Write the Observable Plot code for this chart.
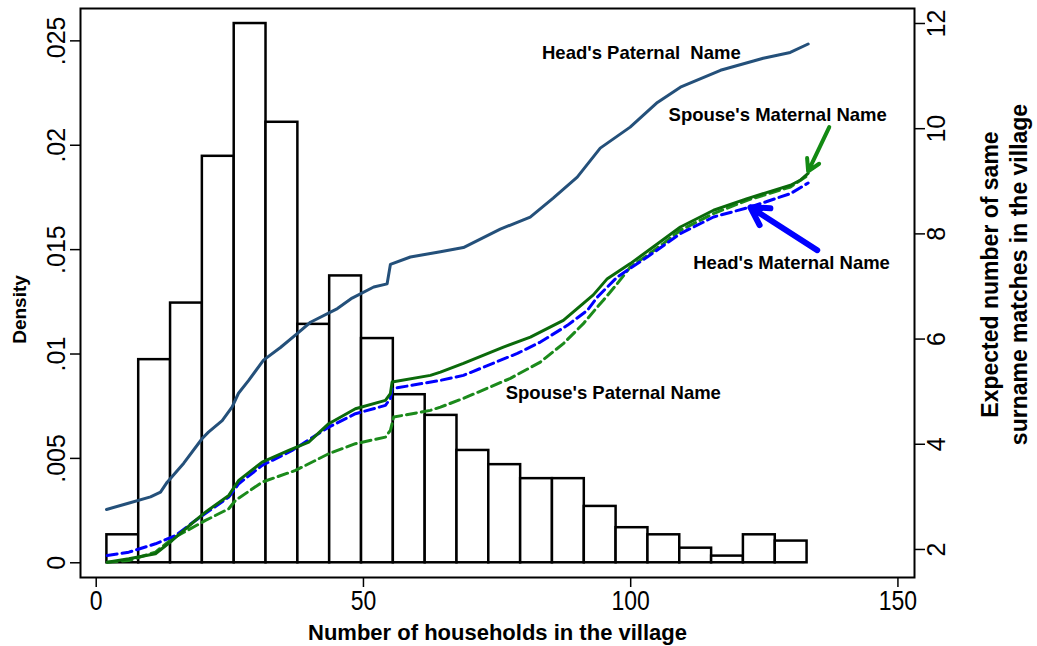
<!DOCTYPE html>
<html><head><meta charset="utf-8">
<script src="https://cdn.jsdelivr.net/npm/d3@7"></script>
<script src="https://cdn.jsdelivr.net/npm/@observablehq/plot@0.6"></script>
<style>body{margin:0;background:#fff;}</style>
</head><body><div id="chart"></div>
<script>
// Histogram: bin edges (number of households) and density per bin
const binEdges = [2, 7.95, 13.91, 19.86, 25.82, 31.77, 37.73, 43.68, 49.64, 55.59, 61.55, 67.5, 73.45, 79.41, 85.36, 91.32, 97.27, 103.23, 109.18, 115.14, 121.09, 127.05, 133];
const density = [0.00134, 0.00973, 0.01244, 0.01947, 0.02583, 0.02110, 0.01142, 0.01374, 0.01074, 0.00805, 0.00706, 0.00538, 0.00470, 0.00403, 0.00403, 0.00270, 0.00168, 0.00134, 0.00070, 0.00032, 0.00134, 0.00104];

// Expected number of same surname matches (right axis): [households, value]
const headPaternal = [[1.93,2.76],[5.85,2.875],[10.16,3.0],[12.03,3.09],[13.28,3.28],[16.38,3.64],[19.83,4.11],[21.0,4.23],[23.57,4.45],[25.44,4.71],[26.62,4.97],[28.49,5.21],[31.3,5.60],[34.47,5.84],[37.65,6.11],[40.08,6.32],[45.13,6.58],[47.88,6.78],[51.92,6.99],[54.43,7.05],[55.04,7.42],[58.78,7.56],[64.4,7.66],[68.7,7.74],[75.6,8.09],[81.2,8.32],[85.5,8.68],[90.0,9.08],[94.3,9.63],[99.9,10.03],[105.0,10.50],[109.3,10.79],[116.8,11.11],[124.8,11.34],[129.85,11.45],[133.2,11.61]];
const spouseMaternal = [[2.06,1.758],[6.10,1.823],[11.09,1.918],[14.21,2.171],[18.57,2.552],[20.44,2.710],[24.80,3.027],[26.67,3.313],[31.05,3.661],[36.02,3.883],[39.76,4.041],[43.50,4.391],[48.50,4.676],[54.11,4.834],[55.04,4.962],[55.36,5.182],[62.52,5.310],[64.40,5.373],[68.70,5.538],[76.18,5.848],[81.23,6.038],[87.40,6.356],[91.14,6.68],[93.01,6.84],[95.63,7.149],[99.93,7.435],[104.2,7.750],[109.3,8.131],[115.5,8.449],[121.8,8.671],[129.9,8.924],[131.7,9.019],[133.2,9.152]];
const headMaternal = [[2.06,1.886],[6.10,1.949],[11.09,2.108],[14.83,2.266],[18.57,2.552],[24.80,2.995],[26.67,3.250],[31.05,3.598],[36.66,3.883],[43.50,4.326],[48.50,4.581],[54.11,4.739],[55.04,4.872],[55.36,5.057],[64.40,5.215],[68.70,5.310],[78.80,5.728],[83.10,5.943],[88.15,6.261],[91.89,6.546],[93.76,6.799],[97.49,7.180],[103.1,7.560],[109.3,8.005],[115.5,8.321],[122.4,8.511],[129.9,8.766],[133.2,8.968]];
const spousePaternal = [[2.06,1.758],[6.10,1.791],[11.09,1.949],[14.21,2.204],[20.44,2.552],[24.80,2.774],[26.05,2.932],[31.05,3.280],[37.28,3.503],[43.50,3.820],[48.50,4.011],[54.11,4.136],[55.04,4.264],[55.66,4.517],[62.52,4.644],[64.40,4.707],[68.70,4.872],[77.49,5.253],[83.10,5.563],[87.40,5.913],[91.14,6.293],[93.76,6.609],[94.88,6.737],[97.49,7.054],[99.93,7.370],[103.1,7.593],[106.1,7.815],[109.3,8.068],[115.5,8.386],[121.8,8.639],[129.9,8.892],[133.2,9.114]];

const xTicks = [0, 50, 100, 150];
const leftTicks = [0, 0.005, 0.01, 0.015, 0.02, 0.025];
const rightTicks = [2, 4, 6, 8, 10, 12];

const yDomain = [-0.000705, 0.02655];
const rDomain = [1.467, 12.285];
const toY = v => yDomain[0] + (v - rDomain[0]) * (yDomain[1] - yDomain[0]) / (rDomain[1] - rDomain[0]);
const fromY = d => rDomain[0] + (d - yDomain[0]) * (rDomain[1] - rDomain[0]) / (yDomain[1] - yDomain[0]);

const bins = density.map((d, i) => ({x1: binEdges[i], x2: binEdges[i + 1], y1: 0, y2: d}));
const px = d => d[0], py = d => toY(d[1]);

const FONT = "'Liberation Sans', Arial, Helvetica, sans-serif";
const fmtLeft = d => d === 0 ? "0" : d3.format(".3~f")(d).replace(/^0/, "");

const chart = Plot.plot({
  width: 1037,
  height: 646,
  marginLeft: 80,
  marginRight: 123,
  marginTop: 8,
  marginBottom: 69,
  style: {fontFamily: FONT, background: "white", color: "black"},
  x: {domain: [-2.94, 153.1]},
  y: {domain: yDomain},
  marks: [
    Plot.rect(bins, {x1: "x1", x2: "x2", y1: "y1", y2: "y2", fill: "white", stroke: "black", strokeWidth: 2.5}),
    Plot.line(spousePaternal, {x: px, y: py, stroke: "#1b8a1b", strokeWidth: 3, strokeDasharray: "10,5"}),
    Plot.line(headMaternal, {x: px, y: py, stroke: "#0000ff", strokeWidth: 3, strokeDasharray: "10,5"}),
    Plot.line(spouseMaternal, {x: px, y: py, stroke: "#0b6a0b", strokeWidth: 3}),
    Plot.line(headPaternal, {x: px, y: py, stroke: "#24507a", strokeWidth: 3}),
    Plot.arrow([{x1: 137.15, y1: toY(10.03), x2: 133.2, y2: toY(9.19)}], {x1: "x1", y1: "y1", x2: "x2", y2: "y2", stroke: "#138a13", strokeWidth: 4, headLength: 5}),
    Plot.arrow([{x1: 134.9, y1: toY(7.69), x2: 122.4, y2: toY(8.505)}], {x1: "x1", y1: "y1", x2: "x2", y2: "y2", stroke: "#0000ff", strokeWidth: 6, headLength: 5}),
    Plot.text([
      {x: 102.0, v: 11.44, t: "Head's Paternal\u00a0\u00a0Name"},
      {x: 127.5, v: 10.26, t: "Spouse's Maternal Name"},
      {x: 130.1, v: 7.45, t: "Head's Maternal Name"},
      {x: 96.75, v: 4.97, t: "Spouse's Paternal Name"}
    ], {x: "x", y: d => toY(d.v), text: "t", fontWeight: "bold", fontSize: 18.5, fill: "black"}),
    Plot.frame({stroke: "black", strokeWidth: 2}),
    Plot.axisX(xTicks, {tickSize: 10, tickPadding: 3, fontSize: 23, strokeWidth: 1.5, label: null}),
    Plot.axisY(leftTicks, {anchor: "left", tickSize: 10, tickPadding: 6, tickRotate: -90, fontSize: 25, strokeWidth: 1.5, tickFormat: fmtLeft, label: null}),
    Plot.axisY(rightTicks.map(toY), {anchor: "right", tickSize: 10, tickPadding: 3, tickRotate: -90, lineAnchor: "top", fontSize: 25, strokeWidth: 1.5, tickFormat: d => String(Math.round(fromY(d))), label: null}),
    Plot.text(["Number of households in the village"], {frameAnchor: "bottom", dy: 55, text: d => d, textAnchor: "middle", fontWeight: "bold", fontSize: 22, lineAnchor: "middle"}),
    Plot.text(["Density"], {frameAnchor: "left", dx: -61, dy: 16.5, rotate: -90, text: d => d, textAnchor: "middle", lineAnchor: "middle", fontWeight: "bold", fontSize: 19}),
    Plot.text(["Expected number of same\nsurname matches in the village"], {frameAnchor: "right", dx: 89, dy: -18.5, rotate: -90, text: d => d, textAnchor: "middle", lineAnchor: "middle", fontWeight: "bold", fontSize: 23, lineHeight: 29 / 23})
  ]
});
document.getElementById("chart").appendChild(chart);
// x tick labels in the reference are drawn slightly taller than wide
d3.select(chart).selectAll('g[aria-label="x-axis tick label"] text').attr("transform", function() {
  return this.getAttribute("transform") + " scale(1,1.2)";
});
</script>
</body></html>
